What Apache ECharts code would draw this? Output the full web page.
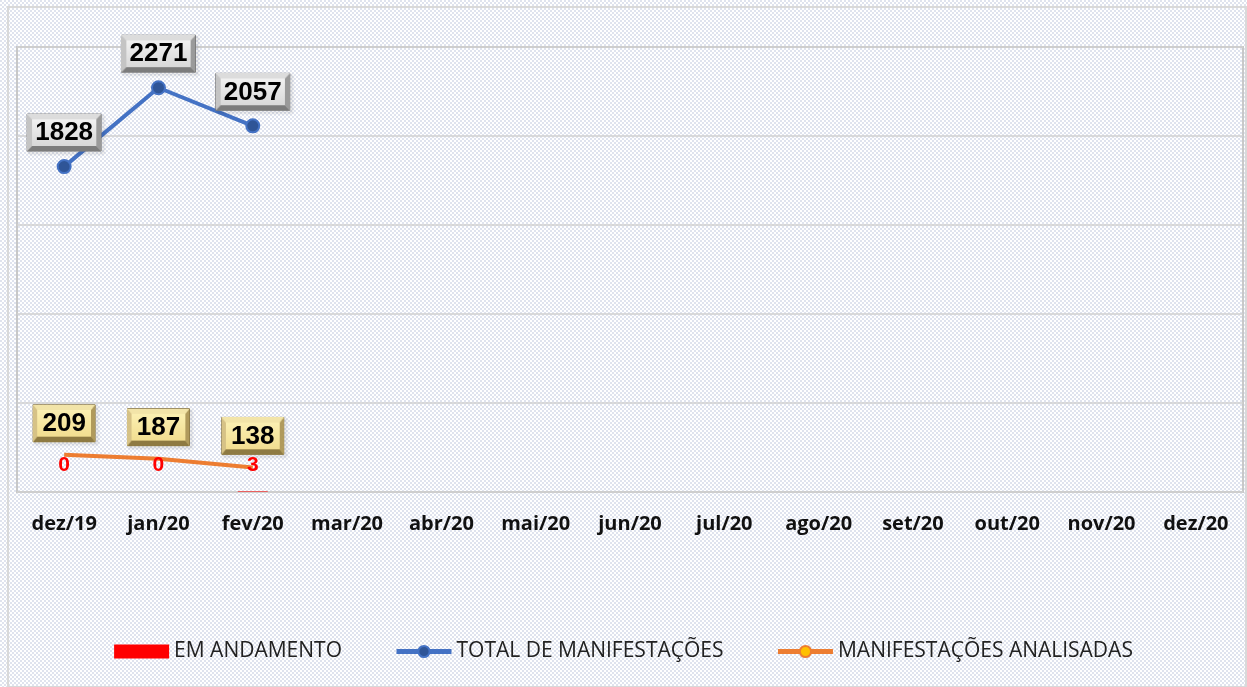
<!DOCTYPE html>
<html lang="pt">
<head>
<meta charset="UTF-8">
<title>Manifestações</title>
<script src="https://cdn.jsdelivr.net/npm/echarts@6/dist/echarts.min.js"></script>
<style>
  html, body { margin: 0; padding: 0; background: #fff; }
  #chart { width: 1247px; height: 687px; }
</style>
</head>
<body>
<div id="chart"></div>
<script>
var meses = ['dez/19', 'jan/20', 'fev/20', 'mar/20', 'abr/20', 'mai/20', 'jun/20', 'jul/20', 'ago/20', 'set/20', 'out/20', 'nov/20', 'dez/20'];
var emAndamento = [0, 0, 3, null, null, null, null, null, null, null, null, null, null];
var totalManif = [1828, 2271, 2057, null, null, null, null, null, null, null, null, null, null];
var analisadas = [209, 187, 138, null, null, null, null, null, null, null, null, null, null];

// fundo quadriculado
var pat = document.createElement('canvas');
pat.width = 4; pat.height = 4;
var pc = pat.getContext('2d');
pc.fillStyle = '#ffffff'; pc.fillRect(0, 0, 4, 4);
pc.fillStyle = '#dfe3ee';
pc.fillRect(0, 0, 2, 2); pc.fillRect(2, 2, 2, 2);

// caixa com chanfro para os rótulos
function bevel(cTop, cMid1, cMid2, cLeft, cRight, cBot) {
    var w = 76, h = 36, b = 5;
    var cv = document.createElement('canvas');
    cv.width = w; cv.height = h;
    var g = cv.getContext('2d');
    var gr = g.createLinearGradient(0, 0, 0, h);
    gr.addColorStop(0, cMid1); gr.addColorStop(1, cMid2);
    g.fillStyle = gr; g.fillRect(0, 0, w, h);
    function poly(pts, c) {
        g.fillStyle = c; g.beginPath(); g.moveTo(pts[0], pts[1]);
        for (var i = 2; i < pts.length; i += 2) g.lineTo(pts[i], pts[i + 1]);
        g.closePath(); g.fill();
    }
    poly([0, 0, w, 0, w - b, b, b, b], cTop);
    poly([0, 0, b, b, b, h - b, 0, h], cLeft);
    poly([w, 0, w, h, w - b, h - b, w - b, b], cRight);
    poly([0, h, b, h - b, w - b, h - b, w, h], cBot);
    return cv;
}
var caixaCinza = bevel('#dcdcdc', '#f6f6f6', '#d4d4d4', '#c4c4c4', '#9a9a9a', '#7c7c7c');
var caixaAmarela = bevel('#f2e4a8', '#fdf3b8', '#f0da8a', '#d6c286', '#b09a5c', '#8e7a42');

var myChart = echarts.init(document.getElementById('chart'));

var rotuloCaixa = {
    show: true,
    position: 'top',
    color: '#000',
    fontFamily: 'Liberation Sans',
    fontWeight: 'bold',
    fontSize: 26,
    lineHeight: 30,
    padding: [4, 8, 3, 8],
    width: 58,
    align: 'center',
    borderColor: '#7a7a7a',
    borderWidth: 1,
    shadowColor: 'rgba(0,0,0,0.3)',
    shadowBlur: 3,
    shadowOffsetX: 2,
    shadowOffsetY: 2
};

var option = {
    backgroundColor: {image: pat, repeat: 'repeat'},
    animation: false,
    graphic: [{
        type: 'rect',
        shape: {x: 8, y: 7, width: 1238, height: 680},
        style: {fill: 'none', stroke: '#d9d9d9', lineWidth: 2},
        silent: true
    }],
    grid: {
        left: 17, right: 4, top: 47, bottom: 195,
        show: true, borderColor: '#c8c8c8', borderWidth: 2, backgroundColor: 'transparent'
    },
    legend: {
        bottom: 20,
        left: 'center',
        itemGap: 52,
        itemWidth: 55,
        itemHeight: 14,
        textStyle: {fontFamily: 'Open Sans', fontSize: 21, color: '#222'},
        data: [
            {name: 'EM ANDAMENTO', icon: 'rect', itemStyle: {color: '#ff0000'}},
            {name: 'TOTAL DE MANIFESTAÇÕES', lineStyle: {width: 5, color: '#4472c4'}},
            {name: 'MANIFESTAÇÕES ANALISADAS', lineStyle: {width: 5, color: '#ed7d31'}}
        ]
    },
    xAxis: {
        type: 'category',
        data: meses,
        boundaryGap: true,
        axisLine: {show: false},
        axisTick: {show: false},
        axisLabel: {
            margin: 22,
            fontFamily: 'Open Sans',
            fontWeight: 'bold',
            fontSize: 20,
            color: '#111'
        }
    },
    yAxis: {
        type: 'value',
        min: 0, max: 2500, interval: 500,
        axisLabel: {show: false},
        axisLine: {show: false},
        axisTick: {show: false},
        splitLine: {lineStyle: {color: '#d0d0d0', width: 1.5}}
    },
    series: [
        {
            name: 'EM ANDAMENTO',
            type: 'bar',
            data: emAndamento,
            barWidth: 30,
            itemStyle: {color: '#ff0000'},
            label: {
                show: true,
                position: 'top',
                distance: 16,
                color: '#ff0000',
                fontFamily: 'Liberation Sans',
                fontWeight: 'bold',
                fontSize: 21
            },
            z: 5
        },
        {
            name: 'TOTAL DE MANIFESTAÇÕES',
            type: 'line',
            data: totalManif,
            symbol: 'circle',
            symbolSize: 13,
            lineStyle: {color: '#4472c4', width: 4},
            itemStyle: {color: '#2f5597', borderColor: '#4472c4', borderWidth: 2},
            label: Object.assign({}, rotuloCaixa, {
                distance: 8,
                backgroundColor: {image: caixaCinza}
            }),
            z: 4
        },
        {
            name: 'MANIFESTAÇÕES ANALISADAS',
            type: 'line',
            data: analisadas.map(function (v) { return {value: v, symbolSize: 0}; }),
            symbol: 'circle',
            symbolSize: 13,
            lineStyle: {color: '#ed7d31', width: 4},
            itemStyle: {color: '#ffc000', borderColor: '#ed7d31', borderWidth: 2},
            label: Object.assign({}, rotuloCaixa, {
                distance: 13,
                width: 46,
                borderColor: '#8e7a42',
                backgroundColor: {image: caixaAmarela}
            }),
            z: 4
        }
    ]
};

myChart.setOption(option);
</script>
</body>
</html>
